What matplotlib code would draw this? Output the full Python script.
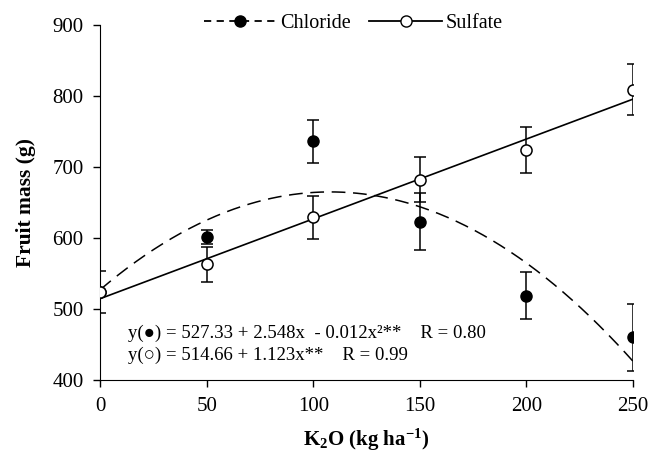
import matplotlib
matplotlib.use("Agg")
import matplotlib.pyplot as plt
from matplotlib.lines import Line2D
import numpy as np

plt.rcParams['font.family'] = ['Liberation Serif', 'DejaVu Sans']
plt.rcParams['mathtext.default'] = 'regular'

doses = [0, 50, 100, 150, 200, 250]
chloride = [524, 601, 736, 623, 519, 460]
chloride_err = [29, 10, 30, 40, 33, 47]
sulfate = [524, 563, 629, 682, 724, 809]
sulfate_err = [0, 25, 30, 32, 32, 36]

# fitted regression coefficients (as drawn)
chl_coef = [527.33, 2.548, -0.0118]
sul_coef = [514.66, 1.123]

fig = plt.figure(figsize=(6.51, 4.53), dpi=100)
ax = fig.add_axes([0.154, 0.161, 0.818, 0.784])

xs = np.linspace(0, 250, 300)
chl_fit = chl_coef[0] + chl_coef[1] * xs + chl_coef[2] * xs ** 2
sul_fit = sul_coef[0] + sul_coef[1] * xs

ax.plot(xs, chl_fit, color='black', lw=1.1, ls=(0, (9, 5)), zorder=2)
ax.plot(xs, sul_fit, color='black', lw=1.2, ls='-', zorder=2)

ax.errorbar(doses, chloride, yerr=chloride_err, fmt='o', color='black',
            mfc='black', mec='black', ms=8, ecolor='black', elinewidth=1.1,
            capsize=4.5, capthick=1.1, zorder=3)
ax.errorbar(doses, sulfate, yerr=sulfate_err, fmt='o', color='black',
            mfc='white', mec='black', ms=8, mew=1.1, ecolor='black',
            elinewidth=1.1, capsize=4.5, capthick=1.1, zorder=4)

ax.set_xlim(0, 250)
ax.set_ylim(400, 900)
ax.set_xticks(doses)
ax.set_yticks(range(400, 901, 100))
ax.spines['top'].set_visible(False)
ax.spines['right'].set_visible(False)
ax.tick_params(direction='out', length=5, labelsize=15, width=1)
ax.tick_params(axis='x', pad=7)
ax.tick_params(axis='y', pad=7)
ax.set_xlabel(r'K$_2$O (kg ha$^{-1}$)', fontsize=15, fontweight='bold', labelpad=8)
ax.set_ylabel('Fruit mass (g)', fontsize=15.5, fontweight='bold', labelpad=12)

h1 = Line2D([], [], color='black', ls=(0, (4, 3)), lw=1.3, marker='o',
            mfc='black', mec='black', ms=8)
h2 = Line2D([], [], color='black', ls='-', lw=1.3, marker='o',
            mfc='white', mec='black', ms=8)
fig.legend([h1, h2], ['Chloride', 'Sulfate'], ncol=2, frameon=False,
           loc='center', bbox_to_anchor=(0.543, 0.949), fontsize=14.5,
           handlelength=3.6, columnspacing=0.9, handletextpad=0.2)

ax.text(13, 466, 'y(●) = 527.33 + 2.548x  - 0.012x²**    R = 0.80',
        fontsize=13.5, va='center', ha='left')
ax.text(13, 435, 'y(○) = 514.66 + 1.123x**    R = 0.99',
        fontsize=13.5, va='center', ha='left')

fig.savefig('out.png', dpi=100)
